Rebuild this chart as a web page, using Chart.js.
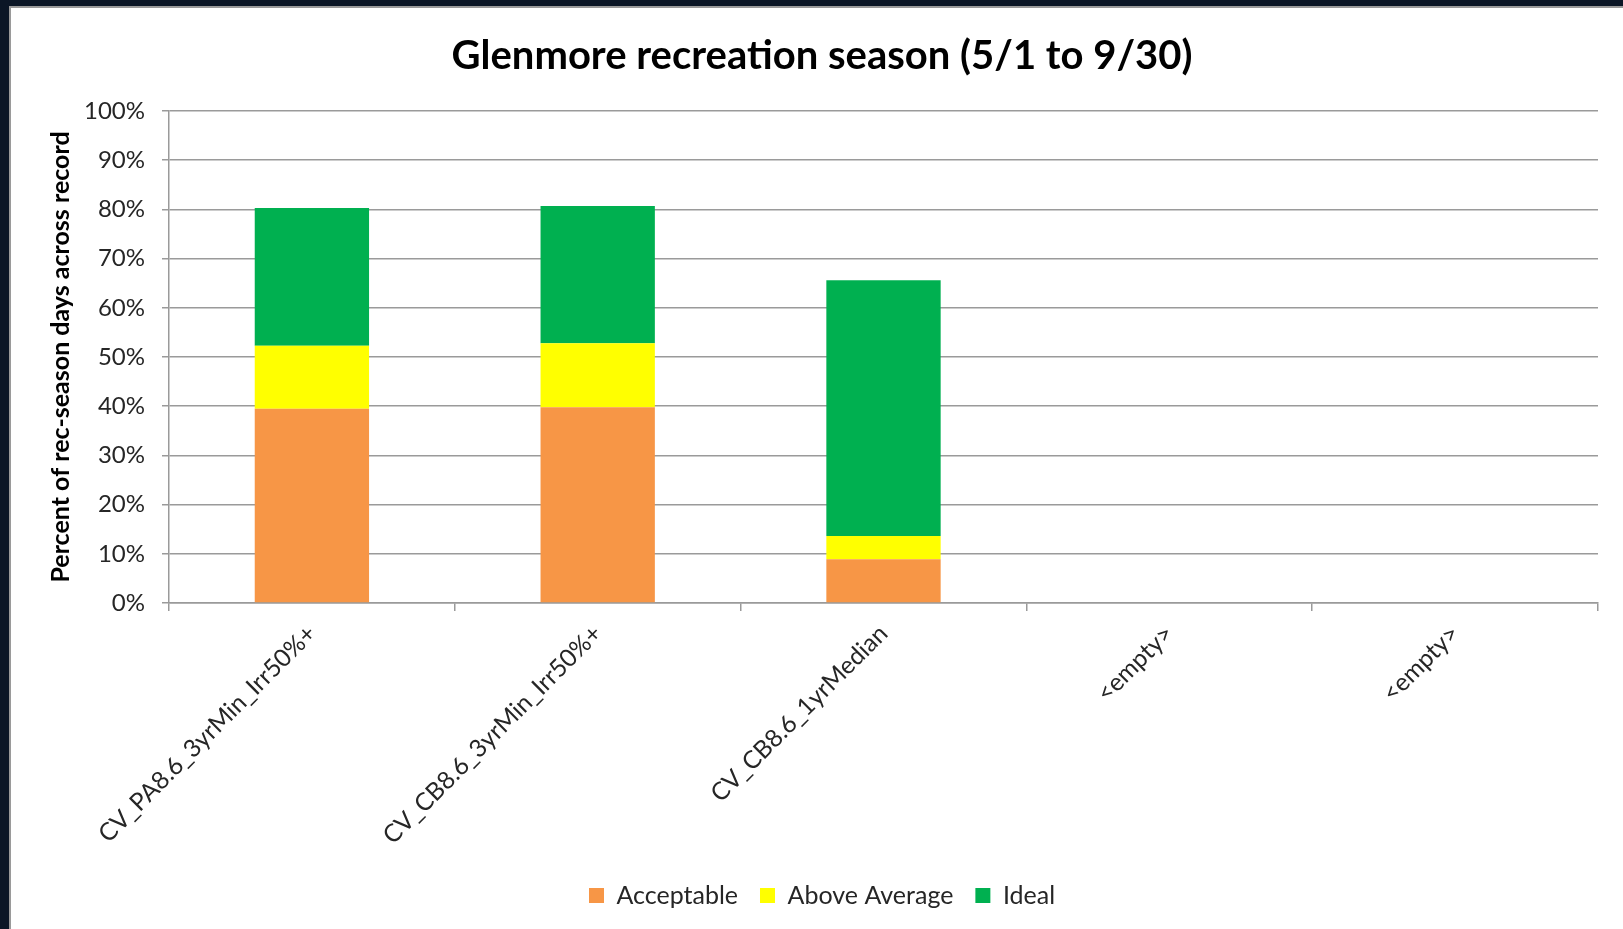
<!DOCTYPE html>
<html>
<head>
<meta charset="utf-8">
<script src="https://cdn.jsdelivr.net/npm/chart.js@4.4.0/dist/chart.umd.min.js"></script>
<style>
  html, body { margin: 0; padding: 0; background: #0b1626; overflow: hidden; }
  #panel {
    position: absolute; left: 9px; top: 6px; width: 1614px; height: 923px;
    background: #fff; border-left: 2px solid #9a9a9a; border-top: 2px solid #9a9a9a;
    box-sizing: border-box;
  }
</style>
</head>
<body>
<div id="panel"><canvas id="rec"></canvas></div>
<script>
const scenarios = ["CV_PA8.6_3yrMin_Irr50%+", "CV_CB8.6_3yrMin_Irr50%+", "CV_CB8.6_1yrMedian", "<empty>", "<empty>"];
const acceptable = [39.5, 39.8, 8.9, null, null];
const aboveAverage = [12.8, 13.0, 4.7, null, null];
const ideal = [28.0, 27.9, 52.0, null, null];
const yTicks = [0, 10, 20, 30, 40, 50, 60, 70, 80, 90, 100];

const FONT = "Lato, 'Open Sans', sans-serif";
const GRID = "#9a9a9a";

const canvas = document.getElementById("rec");
canvas.width = 1612;
canvas.height = 921;
canvas.style.width = "1612px";
canvas.style.height = "921px";

new Chart(canvas, {
    type: "bar",
    data: {
        labels: scenarios,
        datasets: [
            { label: "Acceptable", data: acceptable, backgroundColor: "#f79646" },
            { label: "Above Average", data: aboveAverage, backgroundColor: "#ffff00" },
            { label: "Ideal", data: ideal, backgroundColor: "#00b050" }
        ]
    },
    options: {
        responsive: false,
        animation: false,
        events: [],
        categoryPercentage: 1,
        barPercentage: 0.4,
        layout: { padding: { left: 35, right: 25, top: 0, bottom: 11 } },
        plugins: {
            title: {
                display: true,
                text: "Glenmore recreation season (5/1 to 9/30)",
                color: "#000",
                font: { family: FONT, size: 40, weight: "bold" },
                padding: { top: 24, bottom: 31 }
            },
            legend: {
                position: "bottom",
                labels: {
                    color: "#262626",
                    font: { family: FONT, size: 25 },
                    boxWidth: 15,
                    boxHeight: 15,
                    padding: 22
                }
            },
            tooltip: { enabled: false }
        },
        scales: {
            x: {
                stacked: true,
                grid: { drawOnChartArea: false, color: GRID, tickLength: 8, lineWidth: 1.5 },
                border: { color: GRID, width: 1.5 },
                ticks: {
                    color: "#262626",
                    font: { family: FONT, size: 24.5 },
                    minRotation: 45,
                    maxRotation: 45,
                    autoSkip: false,
                    padding: 8
                },
                afterFit: s => { s.height = 258; }
            },
            y: {
                stacked: true,
                min: 0,
                max: 100,
                afterBuildTicks: s => { s.ticks = yTicks.map(v => ({ value: v })); },
                grid: { color: GRID, tickLength: 7, lineWidth: 1.5 },
                border: { color: GRID, width: 1.5 },
                ticks: {
                    color: "#262626",
                    font: { family: FONT, size: 24 },
                    padding: 17,
                    callback: v => v + "%"
                },
                title: {
                    display: true,
                    text: "Percent of rec-season days across record",
                    color: "#000",
                    font: { family: FONT, size: 25, weight: "bold" },
                    padding: 0
                },
                afterFit: s => { s.width = 123; }
            }
        }
    }
});
</script>
</body>
</html>
